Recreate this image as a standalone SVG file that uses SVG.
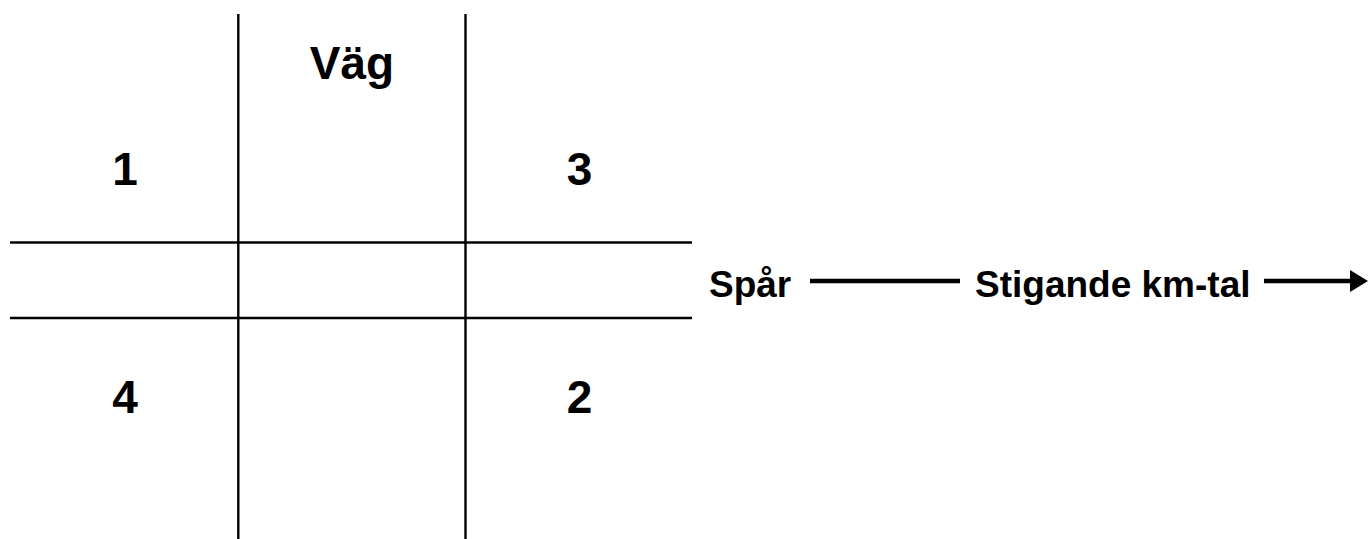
<svg xmlns="http://www.w3.org/2000/svg" width="1368" height="539" viewBox="0 0 1368 539">
<style>
.ln{stroke:#000;stroke-width:2.4;fill:none}
.ar{stroke:#000;stroke-width:4.5;fill:none}
.t{font-family:"Liberation Sans",Arial,sans-serif;font-weight:bold;fill:#000}
.big{font-size:46px}
.mid{font-size:37px}
</style>
<defs>
<marker id="ah" markerUnits="userSpaceOnUse" markerWidth="18" markerHeight="22" refX="0" refY="11" orient="auto">
<path d="M0,0 L18,11 L0,22 Z" fill="#000"/>
</marker>
</defs>
<rect width="1368" height="539" fill="#fff"/>
<g id="grid">
<line class="ln" x1="238.3" y1="14" x2="238.3" y2="539"/>
<line class="ln" x1="465.5" y1="14" x2="465.5" y2="539"/>
<line class="ln" x1="10" y1="242.5" x2="692" y2="242.5"/>
<line class="ln" x1="10" y1="318" x2="692" y2="318"/>
</g>
<g id="vag"><text class="t big" x="352" y="79" text-anchor="middle">Väg</text></g>
<g id="q1"><text class="t big" x="125" y="185" text-anchor="middle">1</text></g>
<g id="q3"><text class="t big" x="579.5" y="185" text-anchor="middle">3</text></g>
<g id="q4"><text class="t big" x="125" y="413" text-anchor="middle">4</text></g>
<g id="q2"><text class="t big" x="579.5" y="413" text-anchor="middle">2</text></g>
<g id="spar"><text class="t mid" x="709" y="297">Spår</text></g>
<g id="stigande"><text class="t mid" x="975" y="297">Stigande km-tal</text></g>
<g id="connectors">
<line class="ar" x1="810" y1="281" x2="960" y2="281"/>
<line class="ar" x1="1264" y1="281" x2="1350" y2="281" marker-end="url(#ah)"/>
</g>
</svg>
